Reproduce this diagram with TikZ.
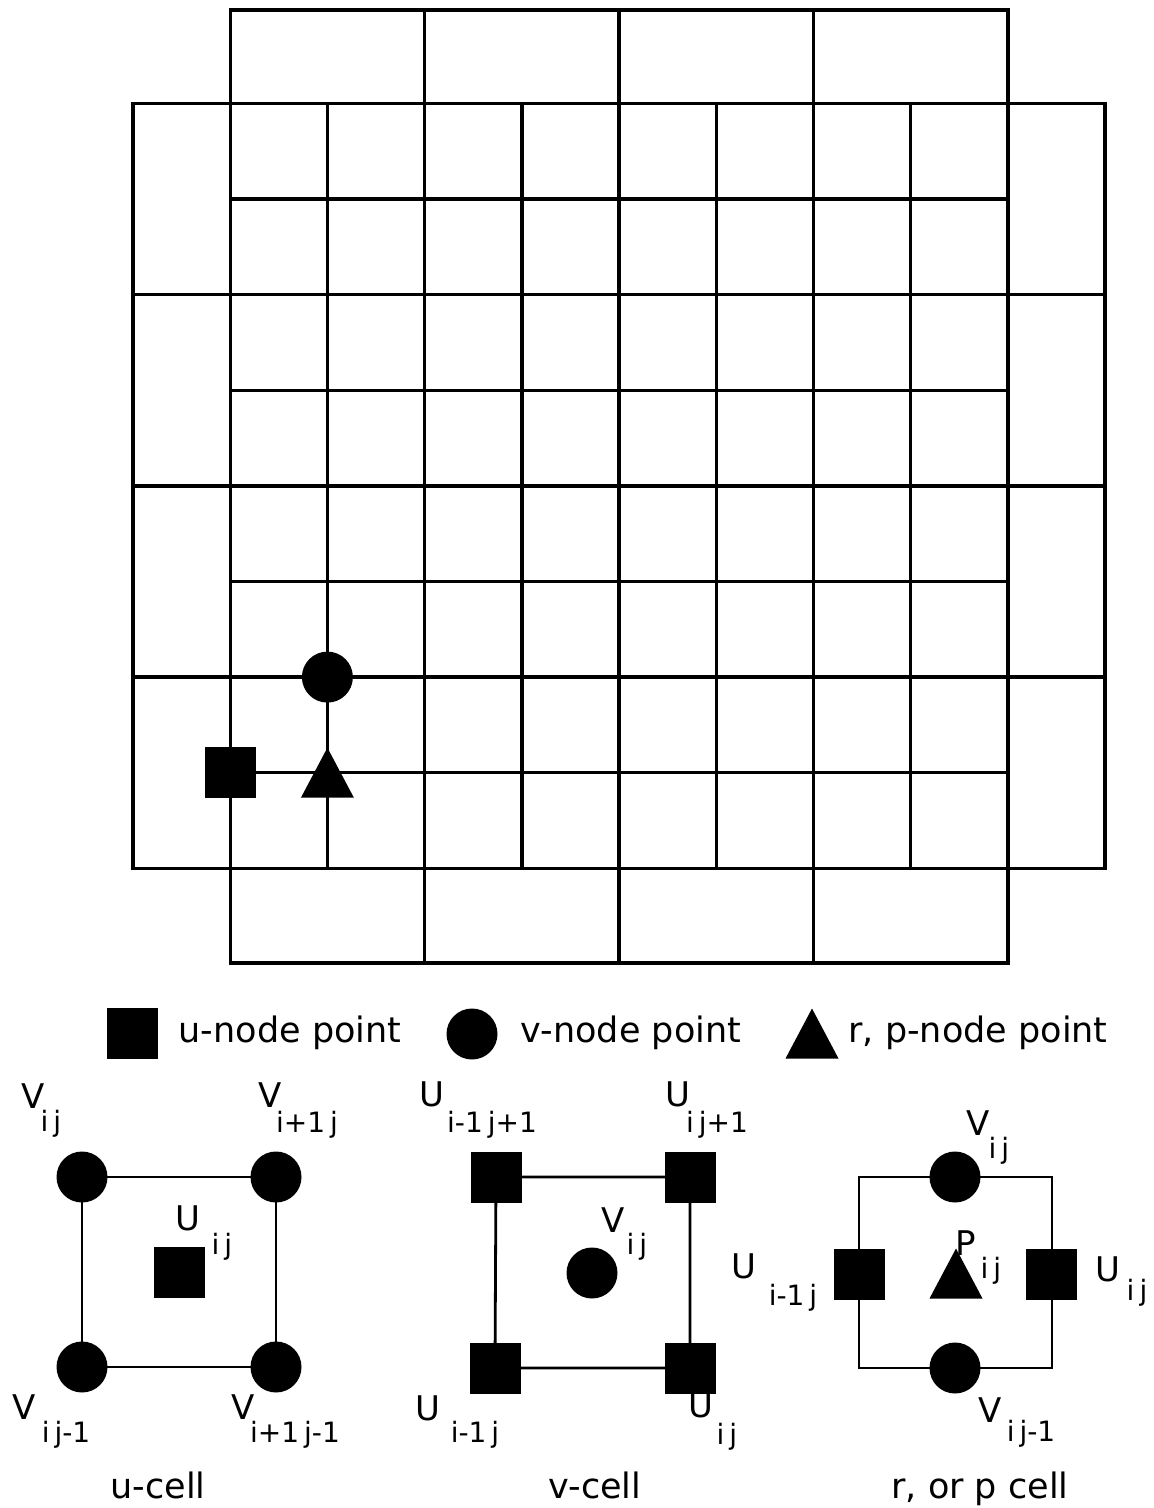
\documentclass[tikz,border=0pt]{standalone}
\usepackage{fontspec}
\setmainfont{DejaVu Sans}
\usetikzlibrary{calc}
\tikzset{
  sq/.style={rectangle, fill=black, minimum size=51pt, inner sep=0pt},
  dot/.style={circle, fill=black, minimum size=51pt, inner sep=0pt},
  gridline/.style={line width=3.4pt, line cap=rect},
  cellline/.style={line width=2.8pt, line cap=rect},
  lab/.style={font=\fontsize{34}{40}\selectfont, inner sep=0pt},
  sublab/.style={font=\fontsize{28}{32}\selectfont, inner sep=0pt},
  title/.style={font=\fontsize{35}{42}\selectfont, inner sep=0pt, anchor=base},
}
\newcommand{\kk}{\kern5pt}
\newcommand{\tri}[3]{%
  \coordinate (#1) at (#2,#3);
  \fill ($(#1)+(-26.5,25)$) -- ($(#1)+(0,-25)$) -- ($(#1)+(26.5,25)$) -- cycle;
}
\begin{document}
\begin{tikzpicture}[x=1pt,y=-1pt]
\useasboundingbox (0,0) rectangle (1154,1508);
% ---------------- grid ----------------
\foreach \x in {230.2,424.6,619,813.4,1007.8} \draw[gridline] (\x,10) -- (\x,963);
\foreach \x in {133,327.4,521.8,716.2,910.6,1105} \draw[gridline] (\x,103.5) -- (\x,868.3);
\foreach \y in {10,963} \draw[gridline] (230.2,\y) -- (1007.8,\y);
\foreach \y in {103.5,294.7,485.9,677.1,868.3} \draw[gridline] (133,\y) -- (1105,\y);
\foreach \y in {199.1,390.3,581.5,772.7} \draw[gridline] (230.2,\y) -- (1007.8,\y);
\node[sq] (gu) at (230.2,772.7) {};
\node[dot] (gv) at (327.4,677.1) {};
\tri{gp}{327.4}{772.7}
% ---------------- legend ----------------
\node[sq] (lu) at (132,1033.5) {};
\node[title] (lut) at (290,1042) {u-node point};
\node[dot] (lv) at (472,1034) {};
\node[title] (lvt) at (631,1042) {v-node point};
\tri{lp}{812}{1033.5}
\node[title] (lpt) at (978,1042) {r, p-node point};
% ---------------- u-cell ----------------
\coordinate (ua) at (82,1177);
\coordinate (ub) at (276,1177);
\coordinate (uc) at (276,1367);
\coordinate (ud) at (82,1367);
\draw[cellline] (ua) -- (ub) -- (uc) -- (ud) -- cycle;
\node[dot] (uva) at (ua) {};
\node[dot] (uvb) at (ub) {};
\node[dot] (uvc) at (uc) {};
\node[dot] (uvd) at (ud) {};
\node[sq] (uu) at (179,1272) {};
\node[lab] (l1) at (33,1096) {V};
\node[sublab] (s1) at (51,1124) {i\kk j};
\node[lab] (l2) at (270,1095) {V};
\node[sublab] (s2) at (307,1125) {i+1\kk j};
\node[lab] (l3) at (24,1407) {V};
\node[sublab] (s3) at (66,1435) {i\kk j-1};
\node[lab] (l4) at (243,1407) {V};
\node[sublab] (s4) at (295,1435) {i+1\kk j-1};
\node[lab] (l5) at (188,1218) {U};
\node[sublab] (s5) at (222,1247) {i\kk j};
\node[title] (ut) at (158,1498) {u-cell};
% ---------------- v-cell ----------------
\coordinate (va) at (496,1177);
\coordinate (vb) at (690,1177);
\coordinate (vc) at (690,1368);
\coordinate (vd) at (495,1368);
\draw[cellline] (va) -- (vb) -- (vc) -- (vd) -- cycle;
\node[sq] (vua) at (va) {};
\node[sq] (vub) at (vb) {};
\node[sq] (vuc) at (vc) {};
\node[sq] (vud) at (vd) {};
\node[dot] (vv) at (592,1273) {};
\node[lab] (m1) at (432,1094) {U};
\node[sublab] (t1) at (492,1125) {i-1\kk j+1};
\node[lab] (m2) at (678,1094) {U};
\node[sublab] (t2) at (717,1125) {i\kk j+1};
\node[lab] (m3) at (613,1220) {V};
\node[sublab] (t3) at (637,1247) {i\kk j};
\node[lab] (m4) at (428,1408) {U};
\node[sublab] (t4) at (475,1435) {i-1\kk j};
\node[lab] (m5) at (701,1405) {U};
\node[sublab] (t5) at (727,1437) {i\kk j};
\node[title] (vt) at (595,1498) {v-cell};
% ---------------- r, p cell ----------------
\coordinate (ra) at (859,1177);
\coordinate (rb) at (1052,1177);
\coordinate (rc) at (1052,1368);
\coordinate (rd) at (859,1368);
\draw[cellline] (ra) -- (rb) -- (rc) -- (rd) -- cycle;
\node[dot] (rvt) at (955,1177) {};
\node[dot] (rvb) at (955,1368) {};
\node[sq] (rul) at (859,1274) {};
\node[sq] (rur) at (1051,1274) {};
\tri{rp}{956}{1273.5}
\node[lab] (n1) at (978,1123) {V};
\node[sublab] (w1) at (999,1151) {i\kk j};
\node[lab] (n2) at (966,1243) {P};
\node[sublab] (w2) at (991,1271) {i\kk j};
\node[lab] (n3) at (1108,1269) {U};
\node[sublab] (w3) at (1137,1293) {i\kk j};
\node[lab] (n4) at (744,1266) {U};
\node[sublab] (w4) at (793,1298) {i-1\kk j};
\node[lab] (n5) at (990,1410) {V};
\node[sublab] (w5) at (1031,1434) {i\kk j-1};
\node[title] (rt) at (980,1498) {r, or p cell};
\end{tikzpicture}
\end{document}
